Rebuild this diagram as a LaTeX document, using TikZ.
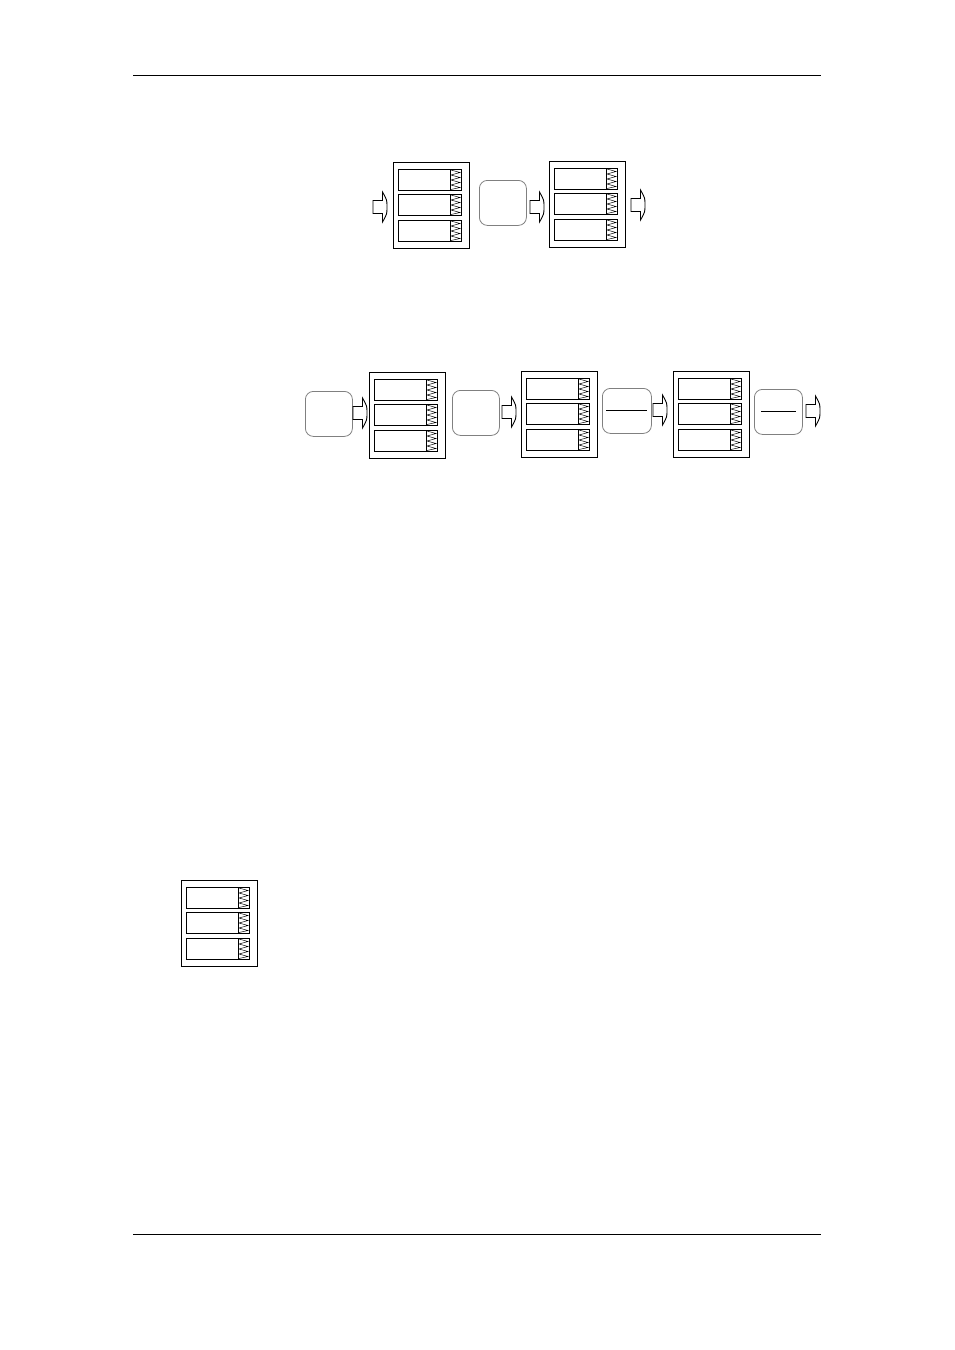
\documentclass[tikz,border=0pt]{standalone}
\begin{document}
\tikzset{
  outer/.style={draw, line width=0.9pt, minimum width=76pt, minimum height=86pt, anchor=north west, inner sep=0pt},
  rowbox/.style={draw, line width=0.8pt, minimum width=63pt, minimum height=21pt, anchor=north west, inner sep=0pt},
  zig/.style={line width=0.5pt},
  proc/.style={draw=gray, line width=0.8pt, rounded corners=8pt, minimum width=47pt, minimum height=45pt, anchor=north west, inner sep=0pt},
  flow/.style={line width=0.9pt, line join=miter},
  rule/.style={line width=0.8pt}
}
\newcommand\storeunit[3]{%
  \node[outer] (#1) at (#2,#3) {};
  \foreach \i/\dy in {1/7,2/32,3/58} {
    \node[rowbox] (#1-\i) at (#2+5,#3+\dy) {};
    \draw[zig] (#2+57,#3+\dy) -- (#2+57,#3+\dy+21);
    \draw[zig] (#2+58,#3+\dy+1) -- (#2+67,#3+\dy+3.5) -- (#2+58,#3+\dy+6) -- (#2+67,#3+\dy+8.5)
      -- (#2+58,#3+\dy+11) -- (#2+67,#3+\dy+13.5) -- (#2+58,#3+\dy+16) -- (#2+67,#3+\dy+18.5) -- (#2+58,#3+\dy+20.5);
  }
}
\newcommand\flowarrow[3]{%
  \coordinate (#1) at (#2,#3);
  \draw[flow] (#2,#3-6.5) -- (#2+9.5,#3-6.5) -- (#2+9.5,#3-15)
    .. controls (#2+14,#3-7) .. (#2+14,#3)
    .. controls (#2+14,#3+7) .. (#2+9.5,#3+15) -- (#2+9.5,#3+6.5) -- (#2,#3+6.5) -- cycle;
}
\begin{tikzpicture}[x=1pt,y=-1pt]
\useasboundingbox (0,0) rectangle (954,1350);
% rules
\coordinate (r1a) at (133,75); \coordinate (r1b) at (821,75);
\coordinate (r2a) at (133,1234); \coordinate (r2b) at (821,1234);
\draw[rule] (r1a) -- (r1b);
\draw[rule] (r2a) -- (r2b);
% group 1
\flowarrow{ga1}{373}{207}
\storeunit{s1}{393}{162}
\node[proc] (p1) at (479,180) {};
\flowarrow{ga2}{530}{207}
\storeunit{s2}{549}{161}
\flowarrow{ga3}{631}{205}
% group 2
\node[proc] (pa) at (305,391) {};
\flowarrow{gb1}{353}{413}
\storeunit{s3}{369}{372}
\node[proc] (pb) at (452,390) {};
\flowarrow{gb2}{502}{412}
\storeunit{s4}{521}{371}
\node[proc, minimum width=49pt] (pc) at (602,388) {};
\draw[flow] ([xshift=4pt]pc.west) -- ([xshift=-5pt]pc.east);
\flowarrow{gb3}{653}{410}
\storeunit{s5}{673}{371}
\node[proc, minimum width=48pt] (pd) at (754,389) {};
\draw[flow] ([xshift=7pt]pd.west) -- ([xshift=-7pt]pd.east);
\flowarrow{gb4}{806}{411}
% legend
\storeunit{s6}{181}{880}
\end{tikzpicture}
\end{document}
